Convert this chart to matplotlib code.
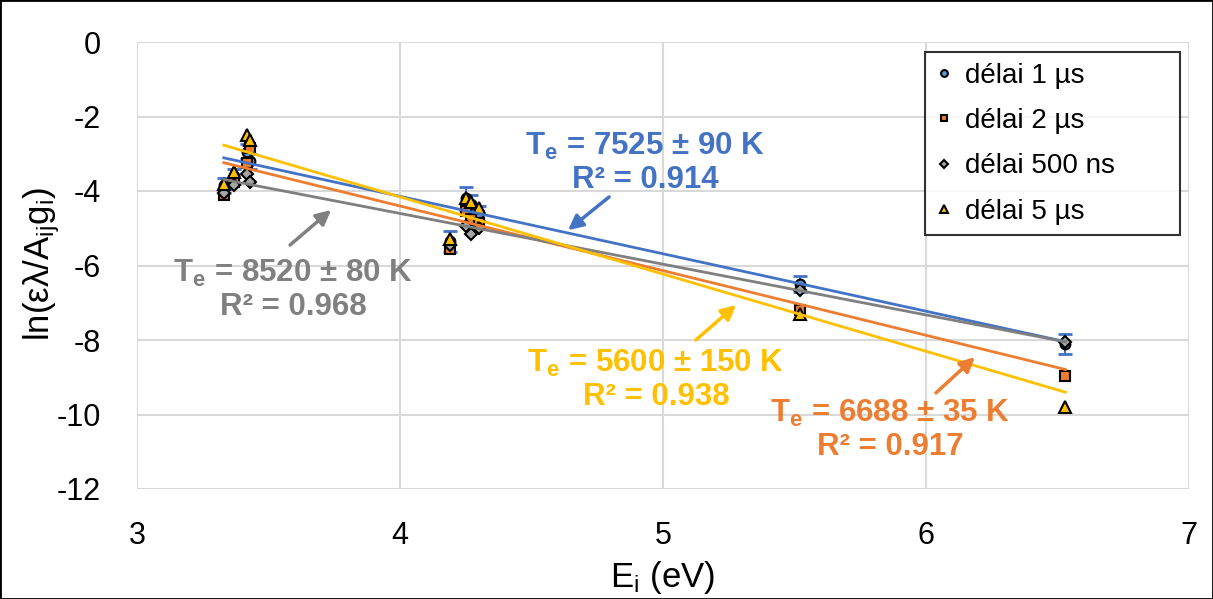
import numpy as np
import matplotlib
matplotlib.use("Agg")
import matplotlib.pyplot as plt
from matplotlib.patches import Rectangle

plt.rcParams['font.family'] = ['Liberation Sans', 'DejaVu Sans']
plt.rcParams['mathtext.fontset'] = 'custom'
plt.rcParams['mathtext.rm'] = 'Liberation Sans'
plt.rcParams['mathtext.it'] = 'Liberation Sans'
plt.rcParams['mathtext.bf'] = 'Liberation Sans:bold'
plt.rcParams['mathtext.default'] = 'regular'
plt.rcParams['axes.unicode_minus'] = False

# ---- data ----
energy = [3.33, 3.37, 3.42, 3.43, 4.19, 4.25, 4.27, 4.30, 5.52, 6.53]
delay_1us = [-3.85, -3.60, -2.95, -3.20, -5.35, -4.20, -4.35, -4.60, -6.50, -8.10]
delay_1us_err = [0.20, 0.20, 0.20, 0.20, 0.28, 0.30, 0.25, 0.20, 0.22, 0.27]
delay_2us = [-4.10, -3.75, -3.25, -2.85, -5.55, -4.55, -4.75, -4.85, -7.20, -8.97]
delay_500ns = [-4.05, -3.85, -3.55, -3.75, -5.45, -4.95, -5.15, -5.00, -6.65, -8.05]
delay_5us = [-3.80, -3.50, -2.50, -2.63, -5.30, -4.20, -4.30, -4.45, -7.30, -9.80]

series_labels = ['délai 1 µs', 'délai 2 µs', 'délai 500 ns', 'délai 5 µs']
# trend lines: electron temperature and value at the first energy
trend_T = [7525, 6688, 8520, 5600]
trend_T_err = [90, 35, 80, 150]
trend_r2 = [0.914, 0.917, 0.968, 0.938]
trend_start = [-3.11, -3.24, -3.69, -2.77]

x_ticks = [3, 4, 5, 6, 7]
y_ticks = [0, -2, -4, -6, -8, -10, -12]

kB = 8.617e-5

fill_colors = ['#5B9BD5', '#ED7D31', '#A5A5A5', '#FFC000']
line_colors = ['#4472C4', '#ED7D31', '#7F7F7F', '#FFC000']
text_colors = ['#4472C4', '#ED7D31', '#808080', '#FFC000']
markers = ['o', 's', 'D', '^']
msizes = [7, 7, 6.5, 8]

W, H = 1213, 599
fig = plt.figure(figsize=(W / 100, H / 100), dpi=100)
ax = fig.add_axes([137 / W, 1 - 489 / H, (1189 - 137) / W, (489 - 42) / H])

ys = [delay_1us, delay_2us, delay_500ns, delay_5us]
handles = []
for i, y in enumerate(ys):
    if i == 0:
        ax.errorbar(energy, y, yerr=delay_1us_err, fmt='none', ecolor='#4472C4',
                    elinewidth=1.5, capsize=5, capthick=2, zorder=2)
    h = ax.plot(energy, y, linestyle='none', marker=markers[i], ms=msizes[i],
                mfc=fill_colors[i], mec='black', mew=1.5, zorder=3 + i,
                label=series_labels[i])[0]
    handles.append(h)

e = np.array(energy)
xx = np.array([e.min(), e.max()])
for i in range(4):
    slope = -1.0 / (kB * trend_T[i])
    b = trend_start[i] - slope * energy[0]
    ax.plot(xx, slope * xx + b, color=line_colors[i], lw=2, zorder=8)

# annotations: (text center x, text center y, arrow tail, arrow head) in data coords
ann = [
    (4.932, -3.25, (4.795, -4.16), (4.639, -5.05)),
    (5.863, -10.42, (6.038, -9.42), (6.186, -8.46)),
    (3.593, -6.66, (3.582, -5.45), (3.738, -4.51)),
    (4.973, -9.07, (5.125, -8.00), (5.278, -7.06)),
]
for i, (tx, ty, tail, head) in enumerate(ann):
    txt = ('T$_{\\mathbf{e}}$ = %d ± %d K\nR² = %.3f'
           % (trend_T[i], trend_T_err[i], trend_r2[i]))
    ax.text(tx, ty, txt, color=text_colors[i], fontsize=22.5, fontweight='bold',
            ha='center', va='center', linespacing=1.12, zorder=10)
    ax.annotate('', xy=head, xytext=tail,
                arrowprops=dict(arrowstyle='-|>', color=text_colors[i], lw=2.5,
                                mutation_scale=22, shrinkA=0, shrinkB=0),
                zorder=10)

ax.set_xlim(3, 7)
ax.set_ylim(-12, 0)
ax.set_xticks(x_ticks)
ax.set_yticks(y_ticks)
ax.tick_params(axis='both', length=0, labelsize=22, colors='black')
ax.tick_params(axis='x', pad=23)
ax.tick_params(axis='y', pad=26)
ax.grid(True, color='#D9D9D9', lw=1.5)
ax.set_axisbelow(True)
for s in ax.spines.values():
    s.set_visible(False)

fig.text(663 / W, 1 - 577 / H, 'E$_{i}$ (eV)', fontsize=25, ha='center', va='center')
fig.text(42 / W, 1 - 264 / H, 'ln(ελ/A$_{ij}$g$_{i}$)', fontsize=25,
         rotation=90, ha='center', va='center')

x0 = (925 - 137) / 1052
x1 = (1180 - 137) / 1052
ytop = (489 - 52) / 447
leg = ax.legend(handles=handles, loc='upper left',
                bbox_to_anchor=(x0, ytop - 0.5, x1 - x0, 0.5), mode='expand',
                fontsize=20, frameon=True, fancybox=False, edgecolor='black',
                markerscale=0.7, handlelength=0.6, handletextpad=0.45,
                labelspacing=0.7, borderpad=0.38, borderaxespad=0)
leg.get_frame().set_linewidth(1.5)
leg.set_zorder(20)

fig.patches.append(Rectangle((0, 0), 1, 1, transform=fig.transFigure,
                             fill=False, edgecolor='black', lw=2))

fig.savefig('out.png', dpi=100)
